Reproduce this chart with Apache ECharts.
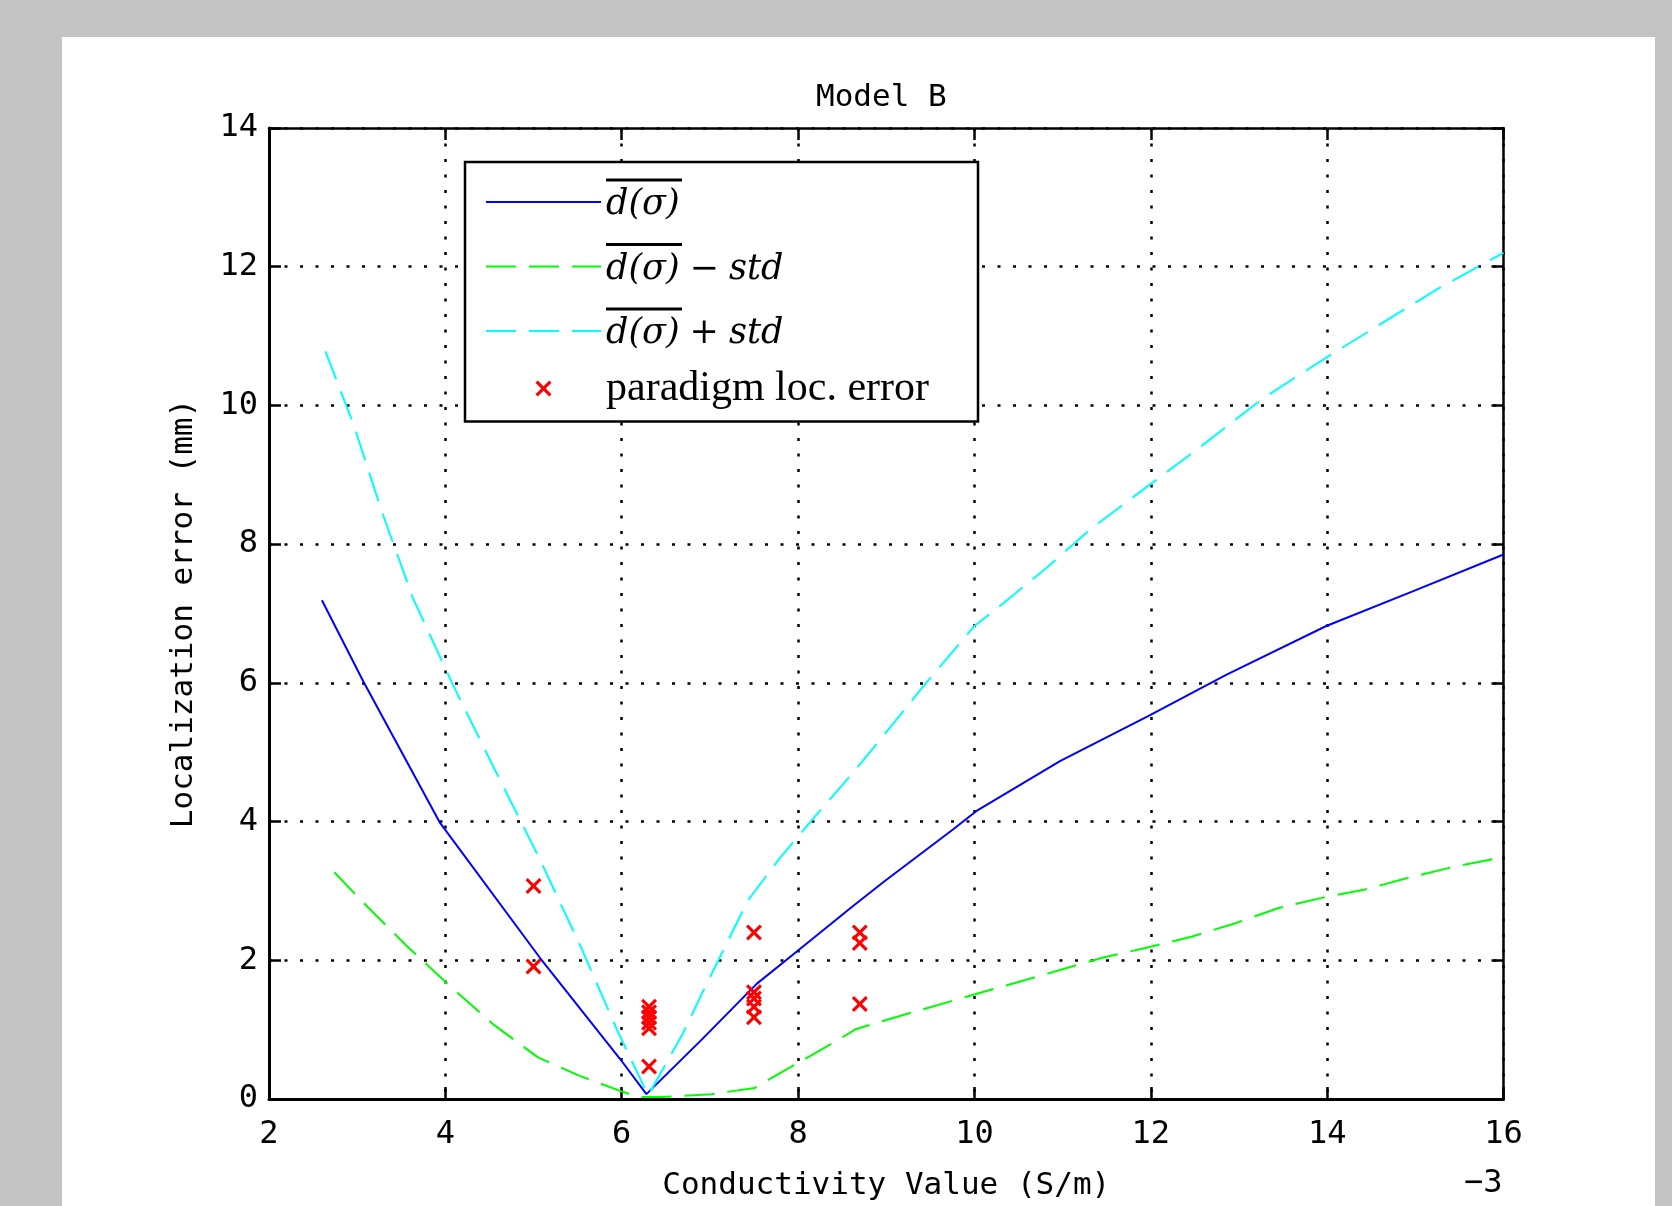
<!DOCTYPE html>
<html>
<head>
<meta charset="utf-8">
<script src="https://cdn.jsdelivr.net/npm/echarts@6/dist/echarts.min.js"></script>
<style>html,body{margin:0;padding:0;background:#c3c3c3;}#c{width:1672px;height:1206px;}</style>
</head>
<body>
<div id="c"></div>
<script>
// ---- data ----
const titleText = 'Model B';
const xName = 'Conductivity Value (S/m)';
const yName = 'Localization error (mm)';
const xExponent = '\u22123';
const seriesNames = ['mean', 'mean-std', 'mean+std', 'paradigm loc. error'];

const meanCurve = [[2.6,7.19],[3.07,6.02],[3.94,3.98],[5.07,2.04],[5.98,0.58],[6.28,0.07],[6.91,0.86],[7.53,1.66],[8.0,2.14],[8.62,2.78],[8.98,3.14],[9.76,3.89],[10.02,4.15],[10.97,4.87],[11.97,5.52],[12.86,6.12],[13.99,6.82],[14.97,7.32],[16.0,7.85]];
const minusCurve = [[2.74,3.27],[3.07,2.83],[3.56,2.21],[4.05,1.63],[4.54,1.08],[5.05,0.6],[5.53,0.33],[6.02,0.1],[6.19,0.03],[6.47,0.03],[7.02,0.07],[7.51,0.16],[7.68,0.29],[8.0,0.52],[8.49,0.88],[8.66,1.01],[9.0,1.14],[9.49,1.32],[9.98,1.5],[10.48,1.68],[10.97,1.86],[11.46,2.04],[11.95,2.18],[12.46,2.34],[12.95,2.53],[13.44,2.75],[13.94,2.9],[14.43,3.02],[14.92,3.19],[15.41,3.34],[16.0,3.49]];
const plusCurve = [[2.64,10.78],[2.96,9.72],[3.28,8.47],[3.63,7.23],[4.09,5.96],[4.58,4.7],[5.07,3.46],[5.53,2.21],[5.96,0.96],[6.2,0.32],[6.3,0.05],[6.7,0.96],[6.94,1.6],[7.43,2.86],[7.79,3.47],[8.21,4.1],[8.64,4.73],[9.04,5.35],[9.44,5.98],[10.0,6.82],[10.32,7.14],[10.82,7.66],[11.33,8.23],[11.97,8.84],[12.54,9.38],[13.27,10.1],[13.99,10.69],[15.24,11.67],[16.0,12.2]];
const paradigmPoints = [[5.0,3.07],[5.0,1.91],[6.31,1.33],[6.31,1.25],[6.31,1.18],[6.31,1.1],[6.31,1.02],[6.31,0.47],[7.5,2.4],[7.5,1.54],[7.5,1.45],[7.5,1.33],[7.5,1.18],[8.7,2.4],[8.7,2.25],[8.7,1.37]];
const xTicks = {min: 2, max: 16, interval: 2};
const yTicks = {min: 0, max: 14, interval: 2};

// ---- chart ----
const legendRich = {
  bar: {width: 76, height: 3, lineHeight: 6, backgroundColor: '#000'},
  m: {fontFamily: 'DejaVu Serif', fontStyle: 'italic', fontSize: 35, color: '#000', lineHeight: 44},
  o: {fontFamily: 'DejaVu Serif', fontSize: 35, color: '#000', lineHeight: 44, padding: [0, 10, 0, 10]},
  p: {fontFamily: 'Liberation Serif', fontSize: 42, color: '#000', lineHeight: 44, width: 364}
};
const legendFormatter = name => {
  const d = '{bar| }\n{m|d(\u03c3)}';
  if (name === seriesNames[0]) return d;
  if (name === seriesNames[1]) return d + '{o|\u2212}{m|std}';
  if (name === seriesNames[2]) return d + '{o|+}{m|std}';
  return '{p|' + name + '}';
};
const monoFont = 'DejaVu Sans Mono';
const xPath = 'path://M0,1.4L1.4,0L5,3.6L8.6,0L10,1.4L6.4,5L10,8.6L8.6,10L5,6.4L1.4,10L0,8.6L3.6,5Z';
const dashed = [30, 13];
const gridDots = {color: '#000', width: 2.5, type: [3, 12.5]};

const chart = echarts.init(document.getElementById('c'), null, {renderer: 'canvas'});
chart.setOption({
  backgroundColor: '#c3c3c3',
  animation: false,
  graphic: [
    {type: 'rect', z: -10, silent: true, shape: {x: 62, y: 37, width: 1593, height: 1180}, style: {fill: '#fff'}},
    {type: 'text', z: 10, left: 1464, top: 1168, style: {text: xExponent, font: '32px "DejaVu Sans Mono"', fill: '#000'}}
  ],
  title: {
    text: titleText, left: 816, top: 82, padding: 0,
    textStyle: {fontFamily: monoFont, fontSize: 31, fontWeight: 'normal', color: '#000'}
  },
  legend: {
    orient: 'vertical', left: 465, top: 162,
    data: [
      {name: seriesNames[0], itemStyle: {opacity: 0}},
      {name: seriesNames[1], itemStyle: {opacity: 0}},
      {name: seriesNames[2], itemStyle: {opacity: 0}},
      {name: seriesNames[3]}
    ],
    backgroundColor: '#fff', borderColor: '#000', borderWidth: 2.5,
    padding: [12, 8, 12, 20],
    itemWidth: 115, itemHeight: 16, itemGap: 16,
    formatter: legendFormatter,
    textStyle: {rich: legendRich},
    selectedMode: false
  },
  grid: {left: 269, top: 128, width: 1234.5, height: 972, containLabel: false},
  xAxis: [
    {type: 'value', position: 'bottom', min: xTicks.min, max: xTicks.max, interval: xTicks.interval,
     name: xName, nameLocation: 'middle', nameGap: 71,
     nameTextStyle: {fontFamily: monoFont, fontSize: 31, color: '#000'},
     axisLine: {show: true, onZero: false, lineStyle: {color: '#000', width: 3}},
     axisTick: {show: true, inside: true, length: 12, lineStyle: {color: '#000', width: 2.5}},
     axisLabel: {show: true, margin: 20, color: '#000', fontFamily: monoFont, fontSize: 32, showMinLabel: true, showMaxLabel: true},
     splitLine: {show: true, lineStyle: gridDots}},
    {type: 'value', position: 'top', min: xTicks.min, max: xTicks.max, interval: xTicks.interval,
     axisLine: {show: true, onZero: false, lineStyle: {color: '#000', width: 2.5}},
     axisTick: {show: true, inside: true, length: 12, lineStyle: {color: '#000', width: 2.5}},
     axisLabel: {show: false}, splitLine: {show: false}}
  ],
  yAxis: [
    {type: 'value', position: 'left', min: yTicks.min, max: yTicks.max, interval: yTicks.interval,
     name: yName, nameLocation: 'middle', nameGap: 70,
     nameTextStyle: {fontFamily: monoFont, fontSize: 31, color: '#000'},
     axisLine: {show: true, onZero: false, lineStyle: {color: '#000', width: 3}},
     axisTick: {show: true, inside: true, length: 12, lineStyle: {color: '#000', width: 2.5}},
     axisLabel: {show: true, margin: 11, color: '#000', fontFamily: monoFont, fontSize: 32, showMinLabel: true, showMaxLabel: true},
     splitLine: {show: true, lineStyle: gridDots}},
    {type: 'value', position: 'right', min: yTicks.min, max: yTicks.max, interval: yTicks.interval,
     axisLine: {show: true, onZero: false, lineStyle: {color: '#000', width: 2.5}},
     axisTick: {show: true, inside: true, length: 12, lineStyle: {color: '#000', width: 2.5}},
     axisLabel: {show: false}, splitLine: {show: false}}
  ],
  series: [
    {name: seriesNames[0], type: 'line', data: meanCurve, symbol: 'none', showSymbol: false,
     lineStyle: {color: '#0000ff', width: 2}, itemStyle: {color: '#0000ff'}, z: 3},
    {name: seriesNames[1], type: 'line', data: minusCurve, symbol: 'none', showSymbol: false,
     lineStyle: {color: '#00ff00', width: 2, type: dashed}, itemStyle: {color: '#00ff00'}, z: 3},
    {name: seriesNames[2], type: 'line', data: plusCurve, symbol: 'none', showSymbol: false,
     lineStyle: {color: '#00ffff', width: 2, type: dashed}, itemStyle: {color: '#00ffff'}, z: 3},
    {name: seriesNames[3], type: 'scatter', data: paradigmPoints, symbol: xPath, symbolSize: 16,
     itemStyle: {color: '#ff0000', opacity: 1}, z: 4}
  ]
});
</script>
</body>
</html>
